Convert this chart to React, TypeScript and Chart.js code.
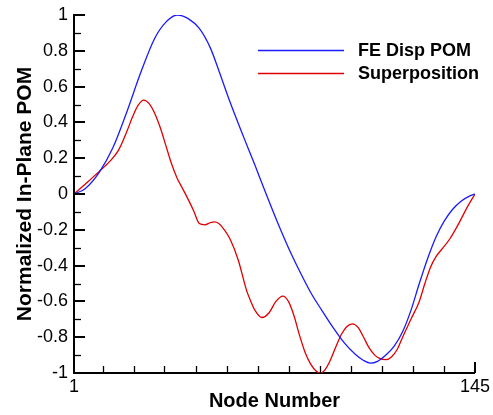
import React, { useEffect, useRef } from "react";
import { Chart, registerables } from "chart.js";

Chart.register(...registerables);

const FONT = "'Liberation Sans', Arial, Helvetica, sans-serif";

// Axis tick values / labels
const X_LABELS = [1, 145];
const X_MINOR_TICKS = [11.3, 22.4, 33.5, 44.7, 55.8, 67, 78.2, 89.3, 100.5, 111.6, 122.7, 133.8];
const Y_MAJOR_TICKS = [-1, -0.8, -0.6, -0.4, -0.2, 0, 0.2, 0.4, 0.6, 0.8, 1];
const Y_MINOR_TICKS = [-0.9, -0.7, -0.5, -0.3, -0.1, 0.1, 0.3, 0.5, 0.7, 0.9];

// Series: FE Disp POM
const FE_NODES = [1, 5, 10, 15, 20, 25, 30, 34, 38, 42, 46, 50, 53, 57, 62, 66, 70, 74, 78, 82, 86, 90, 94, 98, 102, 105, 107.5, 110, 113, 116, 119, 122, 125, 128, 131, 134, 137, 140, 143, 145];
const FE_VALUES = [0, 0.03, 0.12, 0.26, 0.46, 0.68, 0.87, 0.96, 1.0, 0.98, 0.925, 0.815, 0.69, 0.515, 0.315, 0.16, 0.0, -0.155, -0.3, -0.43, -0.55, -0.65, -0.745, -0.83, -0.895, -0.93, -0.945, -0.935, -0.9, -0.85, -0.77, -0.65, -0.5, -0.36, -0.24, -0.15, -0.085, -0.04, -0.012, 0];

// Series: Superposition
const SP_NODES = [1, 5, 10, 14, 17, 20, 22, 24, 26, 28, 30, 32, 34, 36, 38, 40, 42, 44, 46, 48, 50, 51.5, 53, 55, 57, 60, 63, 64.5, 66, 68.5, 71, 73.5, 76, 78, 80, 82, 84, 86, 88, 89.5, 91, 93, 95, 97, 99, 101, 103, 105, 107, 109, 111, 113, 115, 117, 119, 122, 125, 127, 129, 131, 133, 136, 139, 142, 145];
const SP_VALUES = [0, 0.055, 0.125, 0.185, 0.245, 0.35, 0.43, 0.495, 0.525, 0.505, 0.45, 0.37, 0.27, 0.17, 0.09, 0.03, -0.03, -0.095, -0.165, -0.172, -0.16, -0.156, -0.165, -0.2, -0.25, -0.37, -0.54, -0.6, -0.65, -0.69, -0.665, -0.6, -0.57, -0.6, -0.68, -0.79, -0.885, -0.95, -0.99, -1.0, -0.985, -0.93, -0.855, -0.785, -0.74, -0.725, -0.745, -0.8, -0.86, -0.9, -0.92, -0.925, -0.91, -0.87, -0.8, -0.7, -0.6, -0.5, -0.41, -0.35, -0.31, -0.25, -0.17, -0.08, 0];

const SERIES_LABELS = ["FE Disp POM", "Superposition"];
const SERIES_COLORS = ["#1a1aff", "#e00000"];

const X_TITLE = "Node Number";
const Y_TITLE = "Normalized In-Plane POM";

const fmt = (v: number) => String(Math.round(v * 10) / 10);

const decorPlugin = {
  id: "decor",
  afterDraw(chart: any) {
    const { ctx, chartArea, scales } = chart;
    const xs = scales.x;
    const ys = scales.y;
    ctx.save();
    ctx.strokeStyle = "#000";
    // y major ticks (inward)
    ctx.lineWidth = 2;
    Y_MAJOR_TICKS.forEach((v) => {
      const y = Math.round(ys.getPixelForValue(v));
      ctx.beginPath();
      ctx.moveTo(chartArea.left, y);
      ctx.lineTo(chartArea.left + 11, y);
      ctx.stroke();
    });
    // y minor ticks
    ctx.lineWidth = 1.3;
    Y_MINOR_TICKS.forEach((v) => {
      const y = Math.round(ys.getPixelForValue(v)) + 0.5;
      ctx.beginPath();
      ctx.moveTo(chartArea.left, y);
      ctx.lineTo(chartArea.left + 7, y);
      ctx.stroke();
    });
    // x minor ticks
    ctx.lineWidth = 1.3;
    X_MINOR_TICKS.forEach((v) => {
      const x = Math.round(xs.getPixelForValue(v)) + 0.5;
      ctx.beginPath();
      ctx.moveTo(x, chartArea.bottom);
      ctx.lineTo(x, chartArea.bottom - 7);
      ctx.stroke();
    });
    // x major ticks
    ctx.lineWidth = 2;
    X_LABELS.forEach((v) => {
      const x = Math.round(xs.getPixelForValue(v));
      ctx.beginPath();
      ctx.moveTo(x, chartArea.bottom);
      ctx.lineTo(x, chartArea.bottom - 11);
      ctx.stroke();
    });
    // legend
    const lx0 = 258;
    const lx1 = 344;
    const rows = [50.5, 73.5];
    chart.data.datasets.forEach((ds: any, i: number) => {
      const y = rows[i];
      ctx.strokeStyle = ds.borderColor;
      ctx.lineWidth = 1.3;
      ctx.beginPath();
      ctx.moveTo(lx0, y);
      ctx.lineTo(lx1, y);
      ctx.stroke();
      ctx.fillStyle = "#000";
      ctx.font = `bold 18px ${FONT}`;
      ctx.textAlign = "left";
      ctx.textBaseline = "middle";
      ctx.fillText(ds.label, 358, y + 1);
    });
    ctx.restore();
  },
};

export default function App() {
  const canvasRef = useRef<HTMLCanvasElement | null>(null);

  useEffect(() => {
    const canvas = canvasRef.current;
    if (!canvas) return;
    const chart = new Chart(canvas, {
      type: "line",
      data: {
        datasets: [
          {
            label: SERIES_LABELS[0],
            data: FE_NODES.map((x, i) => ({ x, y: FE_VALUES[i] })),
            borderColor: SERIES_COLORS[0],
            borderWidth: 1.3,
            pointRadius: 0,
            cubicInterpolationMode: "monotone",
            fill: false,
          },
          {
            label: SERIES_LABELS[1],
            data: SP_NODES.map((x, i) => ({ x, y: SP_VALUES[i] })),
            borderColor: SERIES_COLORS[1],
            borderWidth: 1.3,
            pointRadius: 0,
            cubicInterpolationMode: "monotone",
            fill: false,
          },
        ],
      },
      options: {
        responsive: false,
        animation: false,
        layout: { padding: { top: 10, right: 18, bottom: 0, left: 0 } },
        plugins: {
          legend: { display: false },
          tooltip: { enabled: false },
        },
        scales: {
          x: {
            type: "linear",
            min: 1,
            max: 145,
            grid: { display: false, drawTicks: false },
            border: { display: true, color: "#000", width: 2 },
            afterBuildTicks: (scale: any) => {
              scale.ticks = X_LABELS.map((v) => ({ value: v }));
            },
            afterFit: (scale: any) => {
              scale.height = 42;
            },
            ticks: {
              autoSkip: false,
              maxRotation: 0,
              padding: 3,
              color: "#000",
              font: { family: FONT, size: 18 },
              callback: (v: any) => String(v),
            },
            title: {
              display: true,
              text: X_TITLE,
              color: "#000",
              font: { family: FONT, size: 20, weight: "bold" },
              padding: { top: 0, bottom: 2 },
            },
          },
          y: {
            type: "linear",
            min: -1,
            max: 1,
            grid: { display: false, drawTicks: false },
            border: { display: true, color: "#000", width: 2 },
            afterBuildTicks: (scale: any) => {
              scale.ticks = Y_MAJOR_TICKS.map((v) => ({ value: v }));
            },
            afterFit: (scale: any) => {
              scale.width = 74;
            },
            ticks: {
              autoSkip: false,
              padding: 6,
              color: "#000",
              font: { family: FONT, size: 18, lineHeight: 1 },
              callback: (v: any) => fmt(Number(v)),
            },
            title: {
              display: true,
              text: Y_TITLE,
              color: "#000",
              font: { family: FONT, size: 21, weight: "bold" },
              padding: { top: 13, bottom: 0 },
            },
          },
        },
      },
      plugins: [decorPlugin],
    } as any);
    return () => chart.destroy();
  }, []);

  return (
    <div style={{ position: "absolute", left: 0, top: 0, width: 493, height: 415, background: "#fff" }}>
      <canvas ref={canvasRef} width={493} height={415} style={{ display: "block" }} />
    </div>
  );
}
